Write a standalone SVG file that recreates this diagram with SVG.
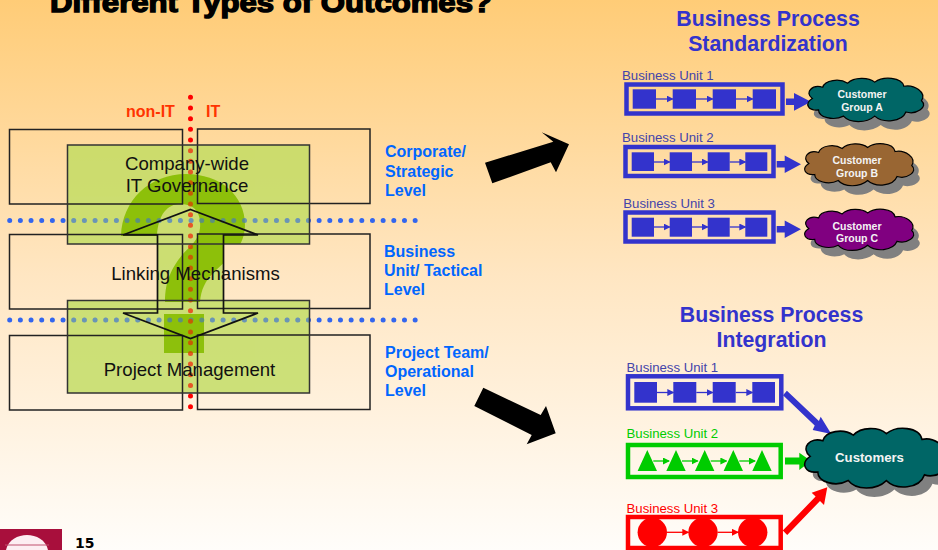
<svg xmlns="http://www.w3.org/2000/svg" width="938" height="550" viewBox="0 0 938 550">
<style>
text{font-family:"Liberation Sans",Arial,sans-serif}
.lvl{font-size:16px;font-weight:bold;fill:#0066ff}
.it{font-size:16px;font-weight:bold;fill:#ff3300}
.main{font-size:18.6px;fill:#111;text-anchor:middle}
.ttl{font-size:21.3px;font-weight:bold;fill:#3333cc;text-anchor:middle}
.bu{font-size:13.2px}
.outline{fill:none;stroke:#222;stroke-width:1.5}
.edge{fill:none;stroke:#333;stroke-width:1.5}
.cl{font-size:10.5px;font-weight:bold;fill:#f4f4f4;text-anchor:middle}
.frame{fill:none;stroke-width:4.5}
.b{fill:#3333cc}.bs{stroke:#3333cc}
.g{fill:#00cc00}.gs{stroke:#00cc00}
.r{fill:#ff0000}.rs{stroke:#ff0000}
.shadow{fill:#808080}
.cloud{stroke:#000;stroke-width:1.2;vector-effect:non-scaling-stroke}
.dots{fill:none;stroke-width:5;stroke-linecap:round;stroke-dasharray:0 10.67}
</style>
<defs>
<linearGradient id="bg" x1="0" y1="0" x2="0" y2="1">
<stop offset="0" stop-color="#ffcc77"/><stop offset=".5" stop-color="#ffe6c2"/><stop offset="1" stop-color="#fffdfa"/>
</linearGradient>
<path id="c" d="M8 20C0 14 8 6 18 9C20 2 34 0 42 5C48-1 62-1 68 4C76-2 94-1 96 8C106 6 118 14 113 22C120 28 108 36 98 33C94 43 76 44 68 37C60 44 44 44 38 37C28 42 14 38 14 31C4 32 0 25 8 20Z"/>
<clipPath id="qclip"><path d="M67.5 145H309.5V244H67.5ZM67.5 300.5H309.5V393H67.5ZM190.5 209.5L258 235H223.5V313H258L190.5 338.5L123 313H157.5V235H123Z"/></clipPath>
<g id="dotlines">
<path class="dots" d="M9.7 220.5H416" stroke="#3366ee"/>
<path class="dots" d="M9.7 320H416" stroke="#3366ee"/>
<path class="dots" d="M190.5 97.3V407" stroke="#ff0000"/>
</g>
<marker id="mb" markerWidth="7" markerHeight="7" refX="6" refY="3.5" orient="auto" markerUnits="userSpaceOnUse" viewBox="0 0 7 7"><path d="M0 0L7 3.5L0 7Z" fill="#3333cc"/></marker>
<marker id="mg" markerWidth="7" markerHeight="7" refX="6" refY="3.5" orient="auto" markerUnits="userSpaceOnUse" viewBox="0 0 7 7"><path d="M0 0L7 3.5L0 7Z" fill="#00cc00"/></marker>
<marker id="mr" markerWidth="7" markerHeight="7" refX="6" refY="3.5" orient="auto" markerUnits="userSpaceOnUse" viewBox="0 0 7 7"><path d="M0 0L7 3.5L0 7Z" fill="#ff0000"/></marker>
</defs>
<rect id="background" width="938" height="550" fill="url(#bg)"/>
<text id="title" x="50" y="12" font-size="27" font-weight="bold" fill="#000" stroke="#000" stroke-width="1.4" textLength="442" lengthAdjust="spacingAndGlyphs">Different Types of Outcomes?</text>

<use id="dividers" href="#dotlines"/>

<path id="green-fill" fill="#bfdc60" fill-opacity=".8" d="M67.5 145H309.5V244H67.5ZM67.5 300.5H309.5V393H67.5ZM190.5 209.5L258 235H223.5V313H258L190.5 338.5L123 313H157.5V235H123Z"/>

<g id="question-mark" fill="#86bc00" fill-opacity=".9" clip-path="url(#qclip)">
<path d="M121 236C122 200 150 174 186 174C220 174 245 195 245 225C245 248 228 258 214 272C205 281 201 290 200 302H165C165 280 172 268 182 255C190 246 199 240 200 228C201 215 197 204 180 204C168 204 158 214 157 236Z"/>
<rect x="164" y="314" width="40" height="39"/>
</g>

<g id="dividers-tint" clip-path="url(#qclip)" opacity=".5"><use href="#dotlines"/></g>

<g id="cells">
<rect class="outline" x="9.5" y="129.5" width="173" height="74.5"/>
<rect class="outline" x="197.5" y="129" width="172.5" height="74.5"/>
<rect class="outline" x="9.5" y="234.5" width="173" height="74.5"/>
<rect class="outline" x="197.5" y="234" width="172.5" height="74.5"/>
<rect class="outline" x="9.5" y="335.5" width="173" height="74.5"/>
<rect class="outline" x="197.5" y="335" width="172.5" height="74.5"/>
</g>

<g id="node-governance"><rect class="edge" x="67.5" y="145" width="242" height="99"/>
<text class="main" x="187" y="170">Company-wide</text><text class="main" x="187" y="192">IT Governance</text></g>
<g id="node-project"><rect class="edge" x="67.5" y="300.5" width="242" height="92.5"/>
<text class="main" x="189.5" y="376">Project Management</text></g>
<g id="double-arrow"><path d="M190.5 209.5L258 235H223.5V313H258L190.5 338.5L123 313H157.5V235H123Z" fill="none" stroke="#111" stroke-width="1.7"/></g>
<g id="node-linking"><text class="main" x="195.5" y="280">Linking Mechanisms</text></g>

<g id="labels">
<text class="it" x="126" y="117">non-IT</text><text class="it" x="206" y="117">IT</text>
<text class="lvl" x="385" y="157">Corporate/</text><text class="lvl" x="385" y="177">Strategic</text><text class="lvl" x="385" y="196">Level</text>
<text class="lvl" x="384" y="257">Business</text><text class="lvl" x="384" y="276">Unit/ Tactical</text><text class="lvl" x="384" y="295">Level</text>
<text class="lvl" x="385" y="358">Project Team/</text><text class="lvl" x="385" y="377">Operational</text><text class="lvl" x="385" y="396">Level</text>
</g>

<g id="big-arrows" fill="#000">
<path d="M485 162.7L553.3 141.7L541.7 132.3L569 144.3L556 172.3L550.7 162.3L492.3 183.3Z"/>
<path d="M483.3 387.7L540.7 415L546 406L555.7 433.3L526.7 444.3L531.7 435L474.3 406Z"/>
</g>

<text class="ttl" x="768" y="26">Business Process</text><text class="ttl" x="768" y="51">Standardization</text>
<text class="ttl" x="771.5" y="322">Business Process</text><text class="ttl" x="771.5" y="347">Integration</text>

<g id="std-unit-1">
<text class="bu" x="622" y="80" fill="#4444aa">Business Unit 1</text>
<rect class="frame bs" x="626.5" y="84.5" width="156" height="29"/>
<rect class="b" x="632.7" y="89.3" width="23.3" height="19.4"/><rect class="b" x="672.7" y="89.3" width="23.3" height="19.4"/><rect class="b" x="712.7" y="89.3" width="23.3" height="19.4"/><rect class="b" x="752.7" y="89.3" width="23.3" height="19.4"/>
</g>
<g id="std-unit-2">
<text class="bu" x="622" y="141.7" fill="#4444aa">Business Unit 2</text>
<rect class="frame bs" x="625.5" y="147" width="148" height="29"/>
<rect class="b" x="631.7" y="152.3" width="22.3" height="18.7"/><rect class="b" x="669.7" y="152.3" width="22.3" height="18.7"/><rect class="b" x="707.7" y="152.3" width="22" height="18.7"/><rect class="b" x="745.3" y="152.3" width="22" height="18.7"/>
</g>
<g id="std-unit-3">
<text class="bu" x="623.3" y="207.7" fill="#4444aa">Business Unit 3</text>
<rect class="frame bs" x="625.5" y="212.5" width="148" height="29"/>
<rect class="b" x="631.7" y="217.7" width="22.3" height="19"/><rect class="b" x="669.7" y="217.7" width="22.3" height="19"/><rect class="b" x="707.7" y="217.7" width="22" height="19"/><rect class="b" x="745.3" y="217.7" width="22" height="19"/>
</g>

<g id="int-unit-1">
<text class="bu" x="626.5" y="371.7" fill="#4444aa">Business Unit 1</text>
<rect class="frame bs" x="628" y="376.3" width="153.3" height="32" stroke-width="4"/>
<rect class="b" x="634.3" y="382" width="22.7" height="20.7"/><rect class="b" x="673.3" y="382" width="23" height="20.7"/><rect class="b" x="712.7" y="382" width="23" height="20.7"/><rect class="b" x="752.3" y="382" width="22.7" height="20.7"/>
</g>
<g id="int-unit-2">
<text class="bu" x="626.5" y="438.3" fill="#00cc00">Business Unit 2</text>
<rect class="frame gs" x="628" y="445" width="152.7" height="32" stroke-width="4"/>
<path class="g" d="M647.3 450L657 471H637.6ZM676 450L685.7 471H666.3ZM704.7 450L714.4 471H695ZM733.3 450L743 471H723.6ZM762 450L771.7 471H752.3Z"/>
</g>
<g id="int-unit-3">
<text class="bu" x="626.5" y="512.7" fill="#ff0000">Business Unit 3</text>
<rect class="frame rs" x="628" y="517" width="152.7" height="31" stroke-width="4"/>
<circle class="r" cx="652.3" cy="532.3" r="14.7"/><circle class="r" cx="703" cy="532.3" r="14.7"/><circle class="r" cx="752.7" cy="532.3" r="14.7"/>
</g>

<g id="connectors">
<g fill="none" stroke="#3333cc" stroke-width="1.3">
<path d="M656 99H672.7" marker-end="url(#mb)"/><path d="M696 99H712.7" marker-end="url(#mb)"/><path d="M736 99H752.7" marker-end="url(#mb)"/>
<path d="M654 162H669.7" marker-end="url(#mb)"/><path d="M692 162H707.7" marker-end="url(#mb)"/><path d="M729.7 162H745.3" marker-end="url(#mb)"/>
<path d="M654 227H669.7" marker-end="url(#mb)"/><path d="M692 227H707.7" marker-end="url(#mb)"/><path d="M729.7 227H745.3" marker-end="url(#mb)"/>
<path d="M657 392.5H673.3" marker-end="url(#mb)"/><path d="M696.3 392.5H712.7" marker-end="url(#mb)"/><path d="M735.7 392.5H752.3" marker-end="url(#mb)"/>
</g>
<g fill="none" stroke="#00cc00" stroke-width="1.3">
<path d="M653.3 461H669" marker-end="url(#mg)"/><path d="M682 461H697.7" marker-end="url(#mg)"/><path d="M710.7 461H726.4" marker-end="url(#mg)"/><path d="M739.3 461H755" marker-end="url(#mg)"/>
</g>
<g fill="none" stroke="#ff0000" stroke-width="1.3">
<path d="M667 532.3H688.3" marker-end="url(#mr)"/><path d="M717.7 532.3H738" marker-end="url(#mr)"/>
</g>
<path class="b" d="M786 98.4H794V93L811 101.7L794 110.7V105H786Z"/>
<path class="b" d="M776.7 161H784.7V155.5L801 164.3L784.7 173V167.6H776.7Z"/>
<path class="b" d="M776.7 226H784.7V220.5L801 229.3L784.7 238V232.6H776.7Z"/>
<path class="g" d="M785 457.5H799.3V452.7L811 461L799.3 470V464.5H785Z"/>
<path class="b" d="M786.9 390.8L818.9 421.1L820.7 416.7L831.3 434L812.7 430L814.7 425.5L783 395.2Z"/>
<path class="r" d="M782.8 530.5L815.6 496.6L811.7 492.7L827.3 487.3L824 505L820 501L787.2 534.9Z"/>
</g>

<g id="std-cloud-a"><use href="#c" class="shadow" transform="translate(810 87) scale(1.04 1.03)"/><use href="#c" class="cloud" fill="#006666" transform="translate(804 78) scale(1.04 1.03)"/>
<text class="cl" x="862" y="98">Customer</text><text class="cl" x="862" y="111">Group A</text></g>
<g id="std-cloud-b"><use href="#c" class="shadow" transform="translate(807 152.5) scale(.98 1)"/><use href="#c" class="cloud" fill="#996633" transform="translate(801 143.5) scale(.98 1)"/>
<text class="cl" x="857" y="164">Customer</text><text class="cl" x="857" y="177">Group B</text></g>
<g id="std-cloud-c"><use href="#c" class="shadow" transform="translate(807 218) scale(.98 .98)"/><use href="#c" class="cloud" fill="#800080" transform="translate(801 209) scale(.98 .98)"/>
<text class="cl" x="857" y="230">Customer</text><text class="cl" x="857" y="242">Group C</text></g>
<g id="int-cloud"><use href="#c" class="shadow" transform="translate(808 437) scale(1.27 1.42)"/><use href="#c" class="cloud" fill="#006666" transform="translate(800 428) scale(1.27 1.42)"/>
<text x="869.5" y="462" font-size="13.2" font-weight="bold" fill="#f4f4f4" text-anchor="middle">Customers</text></g>

<g id="logo">
<rect x="0" y="529" width="62" height="21" fill="#a80f3c"/>
<path d="M6 550C8 540 18 535 27 535C36 535 46 540 48 550Z" fill="#fdeef2"/>
<path d="M5 545H49" stroke="#c0506f" stroke-width="1" fill="none"/>
</g>
<text id="page-number" x="75" y="548" font-size="14" font-weight="bold" fill="#000" style="font-family:'DejaVu Sans',sans-serif">15</text>
</svg>
